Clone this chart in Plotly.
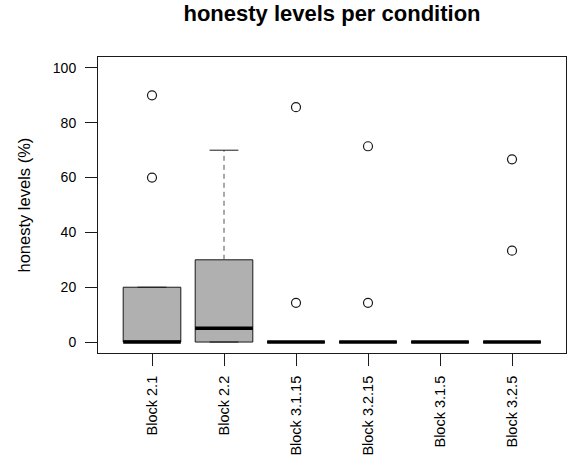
import plotly.graph_objects as go

# Condition labels and five-number summaries of honesty levels (%)
categories = ["Block 2.1", "Block 2.2", "Block 3.1.15", "Block 3.2.15", "Block 3.1.5", "Block 3.2.5"]
q1 = [0, 0, 0, 0, 0, 0]
medians = [0, 5, 0, 0, 0, 0]
q3 = [20, 30, 0, 0, 0, 0]
lower_whisker = [0, 0, 0, 0, 0, 0]
upper_whisker = [20, 70, 0, 0, 0, 0]
outliers = [
    [60, 90],
    [],
    [14.29, 85.71],
    [14.29, 71.43],
    [],
    [33.33, 66.67],
]
y_ticks = [0, 20, 40, 60, 80, 100]

FONT = "Liberation Sans, Arial, Helvetica, sans-serif"
BOX_W = 0.8
CAP_W = BOX_W / 2
INK = "#1a1a1a"

positions = list(range(1, len(categories) + 1))

fig = go.Figure()

# Boxes (whiskers drawn separately so they can be dashed)
for pos, a, m, b, lo, hi in zip(positions, q1, medians, q3, lower_whisker, upper_whisker):
    fig.add_trace(go.Box(
        x=[pos], q1=[a], median=[m], q3=[b], lowerfence=[a], upperfence=[b],
        width=BOX_W, whiskerwidth=0, boxpoints=False,
        fillcolor="#b0b0b0", line=dict(color=INK, width=1),
        hoverinfo="skip", showlegend=False,
    ))

# Dashed whiskers
wx, wy = [], []
for pos, a, b, lo, hi in zip(positions, q1, q3, lower_whisker, upper_whisker):
    wx += [pos, pos, None, pos, pos, None]
    wy += [b, hi, None, a, lo, None]
fig.add_trace(go.Scatter(x=wx, y=wy, mode="lines",
                         line=dict(color="#555555", width=1, dash="5px,4px"),
                         hoverinfo="skip", showlegend=False))

# Whisker caps
cx, cy = [], []
for pos, lo, hi in zip(positions, lower_whisker, upper_whisker):
    cx += [pos - CAP_W / 2, pos + CAP_W / 2, None, pos - CAP_W / 2, pos + CAP_W / 2, None]
    cy += [hi, hi, None, lo, lo, None]
fig.add_trace(go.Scatter(x=cx, y=cy, mode="lines",
                         line=dict(color=INK, width=1),
                         hoverinfo="skip", showlegend=False))

# Thick median bars
mx, my = [], []
for pos, m in zip(positions, medians):
    mx += [pos - BOX_W / 2, pos + BOX_W / 2, None]
    my += [m, m, None]
fig.add_trace(go.Scatter(x=mx, y=my, mode="lines",
                         line=dict(color="#000000", width=3.5),
                         hoverinfo="skip", showlegend=False))

# Outlying points
ox, oy = [], []
for pos, pts in zip(positions, outliers):
    for v in pts:
        ox.append(pos)
        oy.append(v)
fig.add_trace(go.Scatter(x=ox, y=oy, mode="markers",
                         marker=dict(symbol="circle-open", size=9,
                                     color=INK, line=dict(width=1.2, color=INK)),
                         hoverinfo="skip", showlegend=False))

fig.update_layout(
    width=567, height=463,
    margin=dict(l=98, r=1, t=57, b=110),
    paper_bgcolor="white", plot_bgcolor="white",
    font=dict(family=FONT, color="#000000", size=14),
    title=dict(text="<b>honesty levels per condition</b>",
               x=0.5, xref="paper", xanchor="center",
               y=1 - 13 / 463, yref="container", yanchor="middle",
               font=dict(family=FONT, size=22, color="#000000")),
    annotations=[dict(
        text="honesty levels (%)", textangle=-90,
        x=(23.5 - 98) / 468, xref="paper", xanchor="center",
        y=0.5, yref="paper", yanchor="middle",
        showarrow=False, font=dict(family=FONT, size=16.5, color="#000000"),
    )],
)

fig.update_xaxes(
    range=[0.25, 6.75], tickmode="array", tickvals=positions, ticktext=categories,
    tickangle=-90, ticks="outside", ticklen=12, tickwidth=1, tickcolor=INK,
    showline=True, linecolor=INK, linewidth=1, mirror=True,
    showgrid=False, zeroline=False, tickfont=dict(size=14.5),
    ticklabelstandoff=4,
)
fig.update_yaxes(
    range=[-4, 104], tickmode="array", tickvals=y_ticks,
    ticks="outside", ticklen=12, tickwidth=1, tickcolor=INK,
    showline=True, linecolor=INK, linewidth=1, mirror=True,
    showgrid=False, zeroline=False, tickfont=dict(size=14),
    ticklabelstandoff=6,
)

fig.write_html("out.html")
